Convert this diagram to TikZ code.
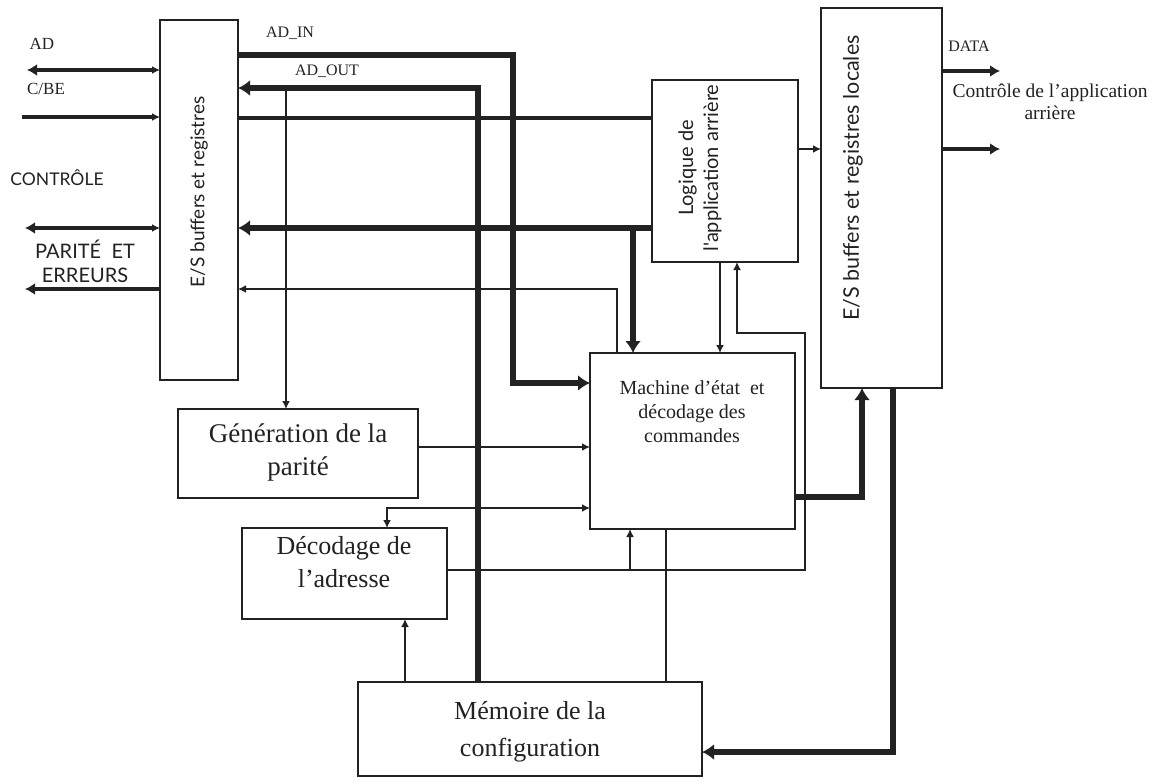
\documentclass[tikz,border=0pt]{standalone}
\usepackage{fontspec}
\setmainfont{Liberation Serif}
\newfontfamily\optf{Lato}
\usetikzlibrary{arrows.meta}
\definecolor{ink}{HTML}{222222}
\newcommand\setfs[2]{\fontsize{#1}{#2}\selectfont}
\begin{document}
\begin{tikzpicture}[x=1pt,y=-1pt,color=ink,
  box/.style={draw=ink,line width=1.4pt,inner sep=0pt,outer sep=0pt,anchor=north west},
  lbl/.style={inner sep=0pt,text=ink},
  wthin/.style={line width=1.7pt},
  wmed/.style={line width=3.6pt},
  wthick/.style={line width=6.5pt},
  tS/.tip={Latex[length=8pt,width=8pt]},
  tM/.tip={Latex[length=10pt,width=12pt]},
  tL/.tip={Latex[length=12pt,width=16pt]}]
\fill[white] (0,0) rectangle (1166,781);
\useasboundingbox (0,0) rectangle (1166,781);

% --- blocks ---
\node[box,minimum width=78pt,minimum height=360pt] (lb) at (160,20) {};
\node[lbl,rotate=90,font=\optf\setfs{19}{22}] (lbtxt) at (199,192) {E/S buffers et registres};
\node[box,minimum width=146pt,minimum height=182pt] (lg) at (652,80) {};
\node[lbl,rotate=90,align=center,font=\optf\setfs{20}{25}] (lgtxt) at (700,168) {Logique de\\l'application arrière};
\node[box,minimum width=121pt,minimum height=380pt] (rb) at (821,8) {};
\node[lbl,rotate=90,font=\optf\setfs{21.5}{24}] (rbtxt) at (853,178) {E/S buffers et registres locales};
\node[box,minimum width=205pt,minimum height=176pt] (ms) at (590,353) {};
\node[lbl,align=center,font=\setfs{20}{24}] (mstxt) at (692,412) {Machine d'état\ \ et\\décodage des\\commandes};
\node[box,minimum width=240pt,minimum height=89pt] (gp) at (178,409) {};
\node[lbl,align=center,font=\setfs{27}{33}] (gptxt) at (298,452) {Génération de la\\parité};
\node[box,minimum width=205pt,minimum height=91pt] (da) at (242,528) {};
\node[lbl,align=center,font=\setfs{26}{33}] (datxt) at (344,562) {Décodage de\\l'adresse};
\node[box,minimum width=344pt,minimum height=94pt] (mc) at (358,682) {};
\node[lbl,align=center,font=\setfs{26}{37}] (mctxt) at (530,732) {Mémoire de la\\configuration};

% --- free ends on the left and right ---
\coordinate (adL) at (27,70);
\coordinate (cbeL) at (22,117);
\coordinate (ctlL) at (25,228);
\coordinate (parL) at (25,289);
\coordinate (dataR) at (1000,71);
\coordinate (ctrlR) at (1000,149);

% --- labels ---
\node[lbl,font=\setfs{17}{20}] (tAD) at (42,44) {AD};
\node[lbl,font=\setfs{17}{20}] (tCBE) at (46,89) {C/BE};
\node[lbl,font=\optf\setfs{17.5}{20}] (tCTL) at (57,178) {CONTRÔLE};
\node[lbl,align=center,font=\optf\setfs{20}{24}] (tPAR) at (85,261) {PARITÉ\ \ ET\\ERREURS};
\node[lbl,font=\setfs{16}{20}] (tIN) at (290,33) {AD\_IN};
\node[lbl,font=\setfs{16}{20}] (tOUT) at (327,71) {AD\_OUT};
\node[lbl,font=\setfs{16}{20}] (tDATA) at (969,46) {DATA};
\node[lbl,align=center,font=\setfs{19.5}{22}] (tCTR) at (1050,102) {Contrôle de l'application\\arrière};

% --- left side signals ---
\draw[wmed,{tM}-{tS}] (adL) -- (lb.west |- adL);
\draw[wmed,-{tS}] (cbeL) -- (lb.west |- cbeL);
\draw[wmed,{tM}-{tS}] (ctlL) -- (lb.west |- ctlL);
\draw[wmed,{tM}-] (parL) -- (lb.west |- parL);

% --- buses on the right of the input/output block ---
\draw[wthick,-{tL}] (lb.east |- 0,55) -- (513,55) -- (513,383) -- (ms.west |- 0,383);
\draw[wthick,-{tL}] (mc.north -| 478,0) -- (478,88) -- (lb.east |- 0,88);
\draw[wmed] (lb.east |- 0,118) -- (lg.west |- 0,118);
\draw[line width=5.5pt,-{tL}] (lg.west |- 0,228) -- (lb.east |- 0,228);
\draw[line width=5.5pt,-{tL}] (633,228) -- (ms.north -| 633,0);
\draw[line width=2.6pt,-{tS}] (ms.north -| 617,0) -- (617,289) -- (lb.east |- 0,289);
\draw[wthin,-{tS}] (286,88) -- (gp.north -| 286,0);

% --- state machine links ---
\draw[wthin,-{tS}] (gp.east |- 0,447) -- (ms.west |- 0,447);
\draw[wthin,{tS}-{tS}] (ms.west |- 0,508) -- (387,508) -- (da.north -| 387,0);
\draw[wthin,-{tS}] (mc.north -| 405,0) -- (da.south -| 405,0);
\draw[wthin,-{tS}] (da.east |- 0,570) -- (805,570) -- (805,333) -- (737,333) -- (lg.south -| 737,0);
\draw[wthin,-{tS}] (630,570) -- (ms.south -| 630,0);
\draw[wthin] (ms.south -| 666,0) -- (mc.north -| 666,0);
\draw[wthin,-{tS}] (lg.south -| 720,0) -- (ms.north -| 720,0);

% --- back-end side ---
\draw[line width=2.6pt,-{tS}] (lg.east |- 0,149) -- (rb.west |- 0,149);
\draw[wmed,-{tM}] (rb.east |- dataR) -- (dataR);
\draw[wmed,-{tM}] (rb.east |- ctrlR) -- (ctrlR);
\draw[wthick,-{tL}] (ms.east |- 0,497) -- (862,497) -- (rb.south -| 862,0);
\draw[wthick,-{tL}] (rb.south -| 893,0) -- (893,752) -- (mc.east |- 0,752);
\end{tikzpicture}
\end{document}
